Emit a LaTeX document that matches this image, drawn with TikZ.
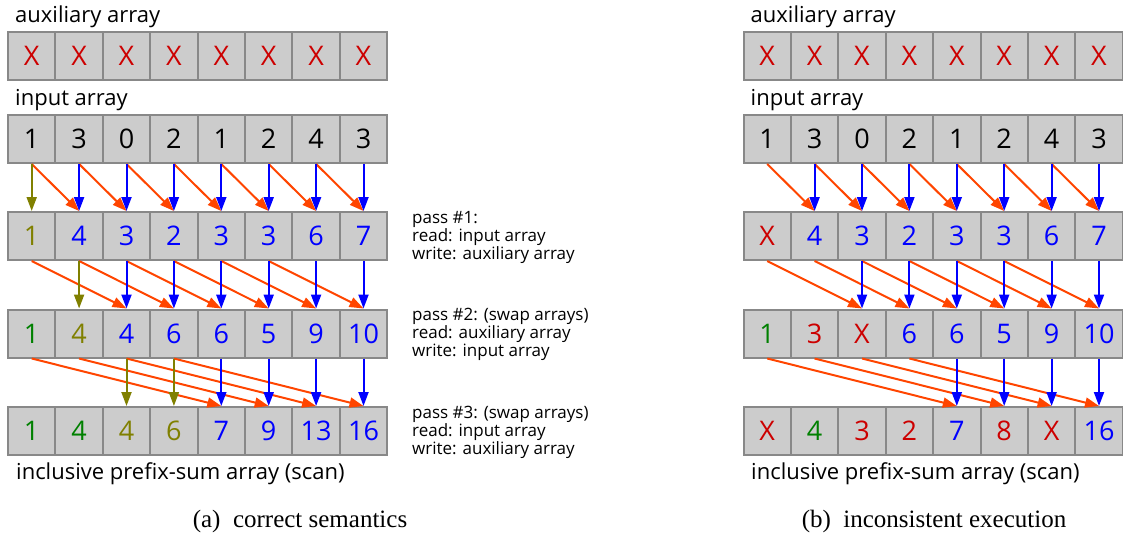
\documentclass[tikz,border=0pt]{standalone}
\usepackage{fontspec}
\setmainfont{Open Sans}
\newfontfamily\capfont{Liberation Serif}
\usetikzlibrary{arrows.meta}

\definecolor{cellfill}{HTML}{CCCCCC}
\definecolor{cellline}{HTML}{888888}
\definecolor{xred}{HTML}{CC0000}
\definecolor{ogreen}{HTML}{008000}
\definecolor{olivec}{HTML}{808000}
\definecolor{vblue}{HTML}{0000FF}
\definecolor{dorange}{HTML}{FF4500}

\tikzset{
  cell/.style={draw=cellline, fill=cellfill, line width=2pt,
    minimum width=47.4pt, minimum height=48pt, inner sep=0pt,
    font=\fontsize{27}{27}\selectfont},
  lbl/.style={anchor=base west, inner sep=0pt, font=\fontsize{22}{26}\selectfont},
  passlbl/.style={anchor=base west, inner sep=0pt, align=left,
    font=\fontsize{17}{15.6}\selectfont},
  capt/.style={anchor=base, inner sep=0pt, font=\capfont\fontsize{25}{30}\selectfont},
  flow/.style={line width=2pt, -{Triangle[length=14pt,width=10pt]}},
  diagarr/.style={flow, draw=dorange},
  vertarr/.style={flow, draw=vblue},
  oldarr/.style={flow, draw=olivec},
}

% one array of eight cells: prefix, row, left edge, vertical centre, value/colour list
\newcommand\cellrow[5]{%
  \foreach \v/\c [count=\i from 0] in {#5} {
    \node[cell, text=\c] (#1#2-\i) at (#3+\i*47.4+23.7, #4) {\v};
  }%
}

\begin{document}
\begin{tikzpicture}[x=1pt, y=-1pt]
\useasboundingbox (0,0) rectangle (1123,535);

% ---------------- (a) correct semantics ----------------
\node[lbl] (auxa) at (15, 22.7) {auxiliary array};
\cellrow{a}{0}{8}{56}{X/xred,X/xred,X/xred,X/xred,X/xred,X/xred,X/xred,X/xred}
\node[lbl] (ina) at (15, 105.7) {input array};
\cellrow{a}{1}{8}{139}{1/black,3/black,0/black,2/black,1/black,2/black,4/black,3/black}
\cellrow{a}{2}{8}{236}{1/olivec,4/vblue,3/vblue,2/vblue,3/vblue,3/vblue,6/vblue,7/vblue}
\cellrow{a}{3}{8}{333.5}{1/ogreen,4/olivec,4/vblue,6/vblue,6/vblue,5/vblue,9/vblue,10/vblue}
\cellrow{a}{4}{8}{431}{1/ogreen,4/ogreen,4/olivec,6/olivec,7/vblue,9/vblue,13/vblue,16/vblue}
\node[lbl] (scana) at (16, 479) {inclusive prefix-sum array (scan)};

% pass 1: distance 1
\foreach \i in {0,...,6} {
  \pgfmathtruncatemacro\j{\i+1}
  \draw[diagarr] (a1-\i.south) -- (a2-\j.north);
}
\draw[oldarr] (a1-0.south) -- (a2-0.north);
\foreach \i in {1,...,7} { \draw[vertarr] (a1-\i.south) -- (a2-\i.north); }

% pass 2: distance 2
\foreach \i in {0,...,5} {
  \pgfmathtruncatemacro\j{\i+2}
  \draw[diagarr] (a2-\i.south) -- (a3-\j.north);
}
\draw[oldarr] (a2-1.south) -- (a3-1.north);
\foreach \i in {2,...,7} { \draw[vertarr] (a2-\i.south) -- (a3-\i.north); }

% pass 3: distance 4
\foreach \i in {0,...,3} {
  \pgfmathtruncatemacro\j{\i+4}
  \draw[diagarr] (a3-\i.south) -- (a4-\j.north);
}
\foreach \i in {2,3} { \draw[oldarr] (a3-\i.south) -- (a4-\i.north); }
\foreach \i in {4,...,7} { \draw[vertarr] (a3-\i.south) -- (a4-\i.north); }

% pass descriptions (anchored at the baseline of their last line)
\node[passlbl] (pass1) at (412, 259.5) {pass \#1:\\read: input array\\write: auxiliary array};
\node[passlbl] (pass2) at (412, 356.5) {pass \#2: (swap arrays)\\read: auxiliary array\\write: input array};
\node[passlbl] (pass3) at (412, 454.5) {pass \#3: (swap arrays)\\read: input array\\write: auxiliary array};

\node[capt] (capa) at (300, 527) {(a)\enspace correct semantics};

% ---------------- (b) inconsistent execution ----------------
\node[lbl] (auxb) at (750.5, 22.7) {auxiliary array};
\cellrow{b}{0}{743.5}{56}{X/xred,X/xred,X/xred,X/xred,X/xred,X/xred,X/xred,X/xred}
\node[lbl] (inb) at (750.5, 105.7) {input array};
\cellrow{b}{1}{743.5}{139}{1/black,3/black,0/black,2/black,1/black,2/black,4/black,3/black}
\cellrow{b}{2}{743.5}{236}{X/xred,4/vblue,3/vblue,2/vblue,3/vblue,3/vblue,6/vblue,7/vblue}
\cellrow{b}{3}{743.5}{333.5}{1/ogreen,3/xred,X/xred,6/vblue,6/vblue,5/vblue,9/vblue,10/vblue}
\cellrow{b}{4}{743.5}{431}{X/xred,4/ogreen,3/xred,2/xred,7/vblue,8/xred,X/xred,16/vblue}
\node[lbl] (scanb) at (751, 479) {inclusive prefix-sum array (scan)};

\foreach \i in {0,...,6} {
  \pgfmathtruncatemacro\j{\i+1}
  \draw[diagarr] (b1-\i.south) -- (b2-\j.north);
}
\foreach \i in {1,...,7} { \draw[vertarr] (b1-\i.south) -- (b2-\i.north); }

\foreach \i in {0,...,5} {
  \pgfmathtruncatemacro\j{\i+2}
  \draw[diagarr] (b2-\i.south) -- (b3-\j.north);
}
\foreach \i in {2,...,7} { \draw[vertarr] (b2-\i.south) -- (b3-\i.north); }

\foreach \i in {0,...,3} {
  \pgfmathtruncatemacro\j{\i+4}
  \draw[diagarr] (b3-\i.south) -- (b4-\j.north);
}
\foreach \i in {4,...,7} { \draw[vertarr] (b3-\i.south) -- (b4-\i.north); }

\node[capt] (capb) at (934, 527) {(b)\enspace inconsistent execution};
\end{tikzpicture}
\end{document}
